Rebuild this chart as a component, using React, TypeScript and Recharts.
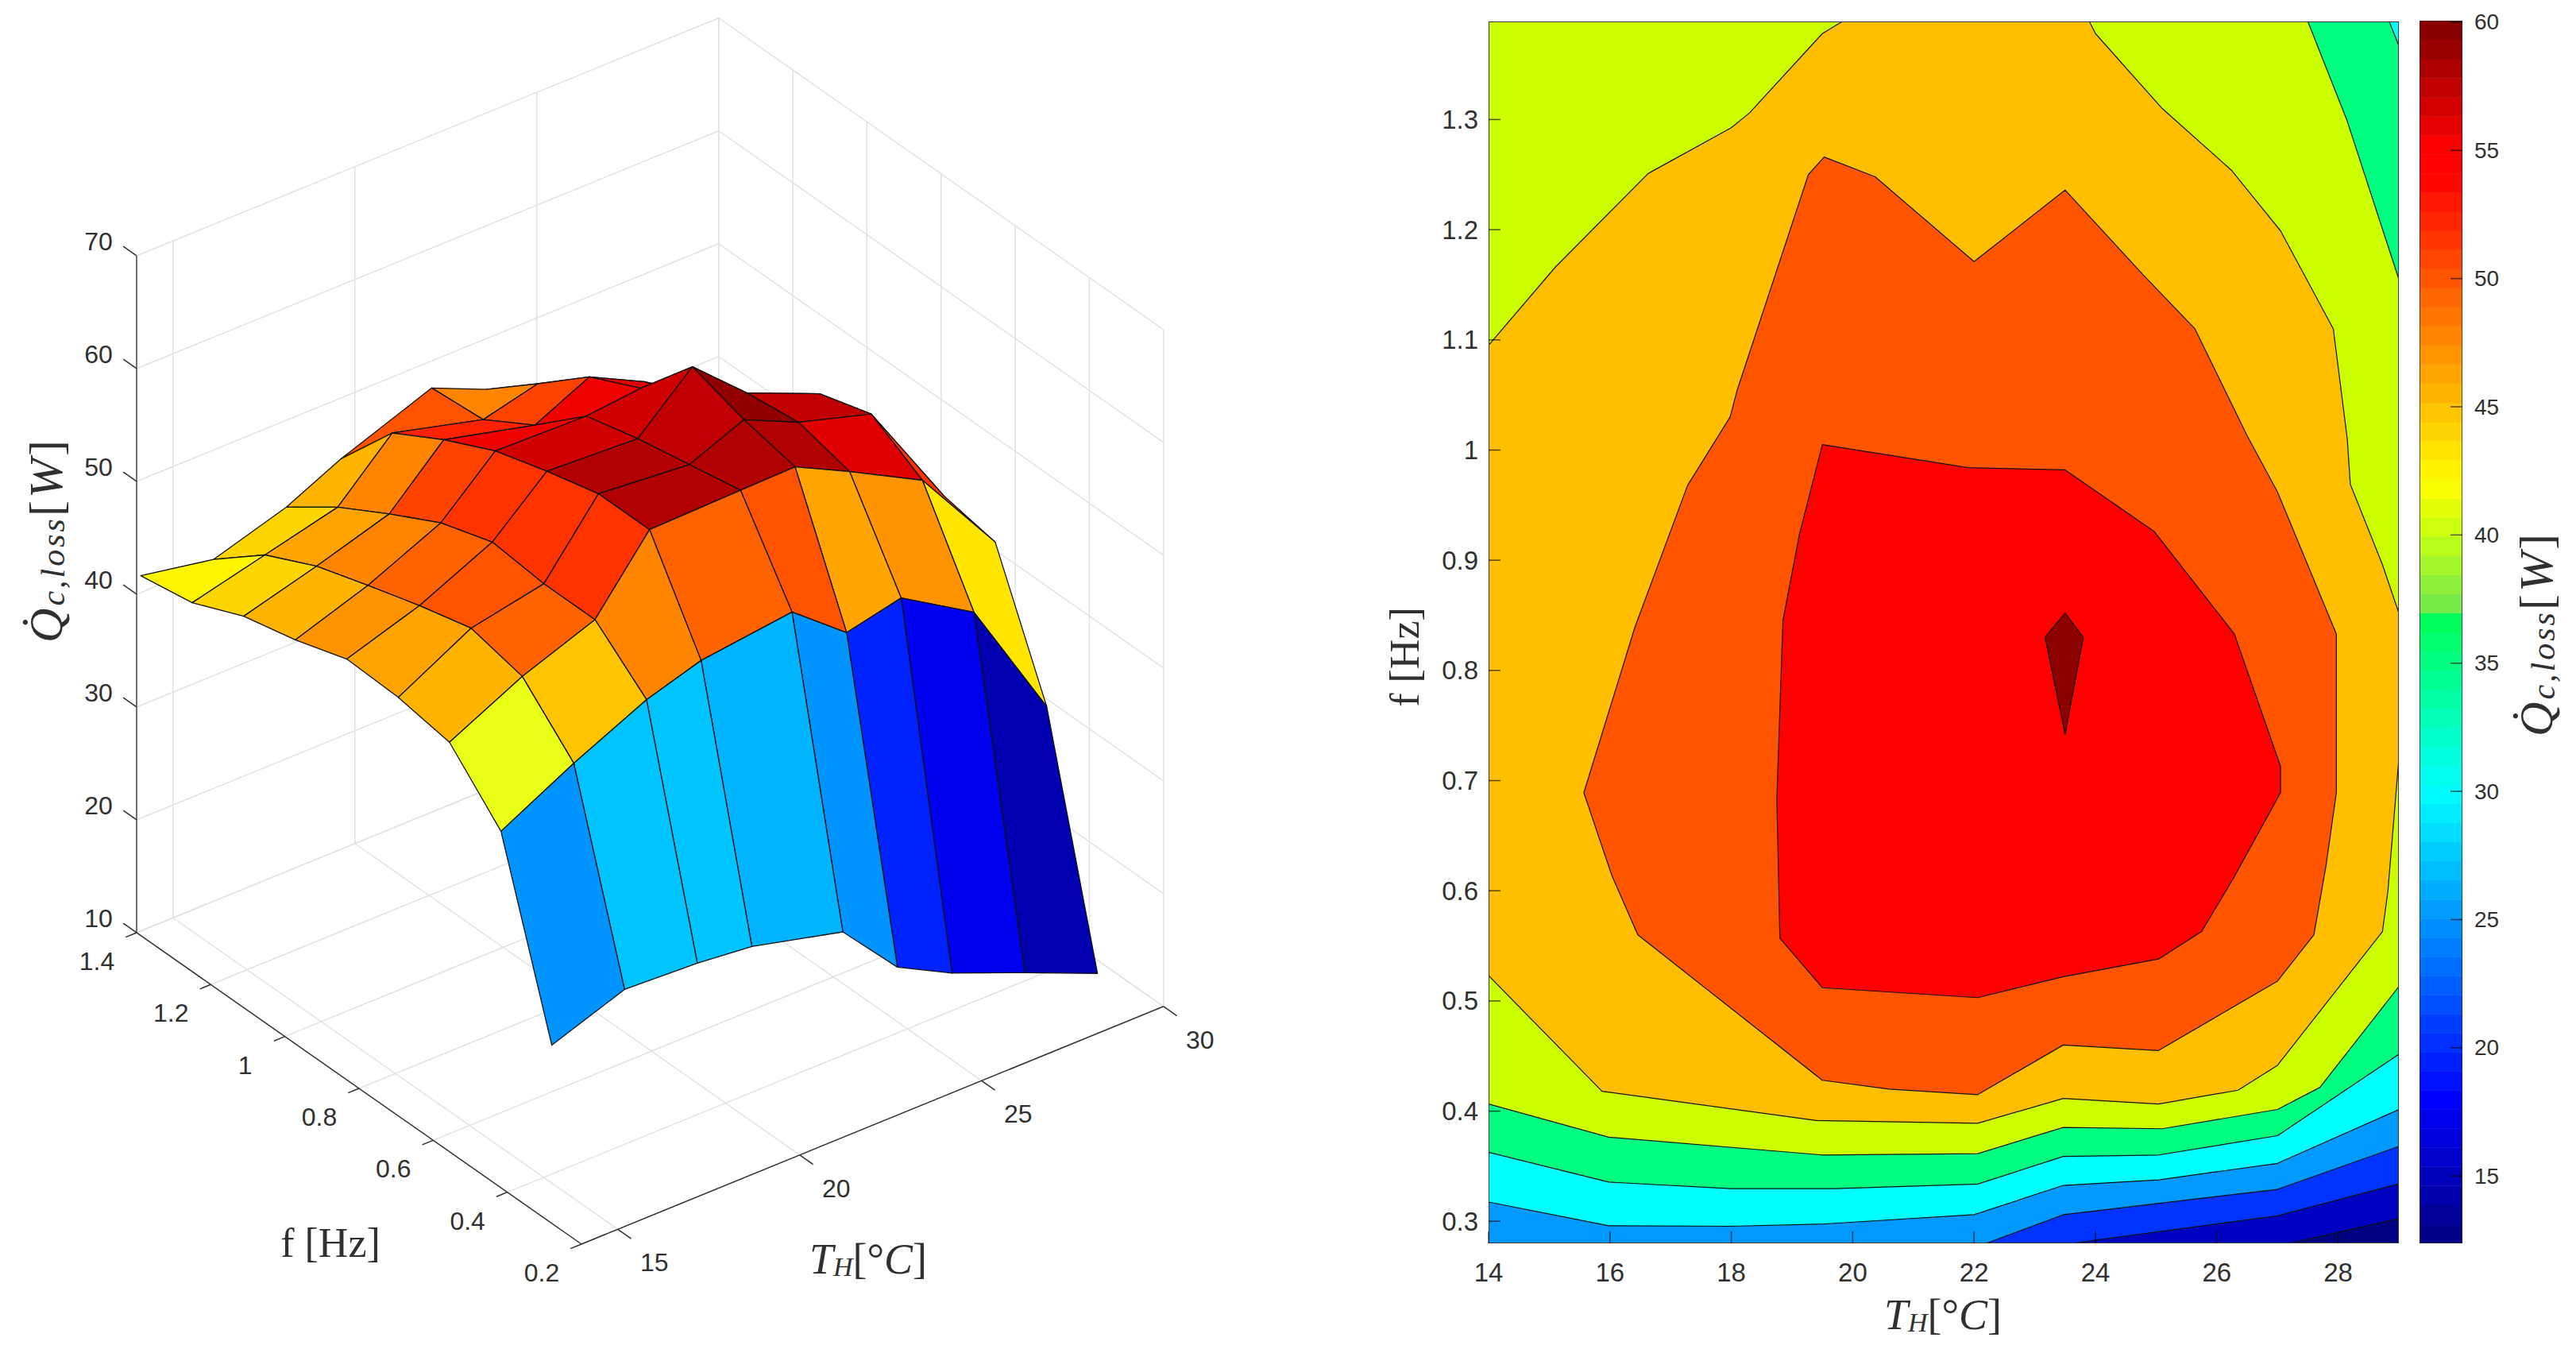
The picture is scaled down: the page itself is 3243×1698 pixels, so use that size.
import React from 'react';
import { ScatterChart, Scatter, XAxis, YAxis } from 'recharts';

// ---------- surface data ----------
const surfaceTemps = [14, 16, 18, 19.5, 22, 23.5, 25, 27, 29];
const surfaceFreqs = [0.28, 0.417, 0.556, 0.694, 0.833, 0.972, 1.111, 1.25, 1.389];
const qT14 = [25.8, 41.6, 46.3, 47.1, 47.3, 45.8, 44.7, 42.7, 41.9];
const qT16 = [28.1, 45.0, 49.5, 50.6, 49.4, 48.0, 46.5, 44.3, 40.7];
const qT18 = [27.8, 48.0, 51.9, 51.9, 52.4, 50.9, 48.5, 45.9, 42.7];
const qT195 = [27.3, 49.5, 57.9, 57.9, 56.7, 55.3, 53.1, 50.5, 45.0];
const qT22 = [25.3, 50.5, 58.1, 57.2, 56.3, 55.1, 51.1, 48.4, 48.0];
const qT235 = [20.2, 46.7, 58.2, 59.2, 60.7, 55.6, 53.4, 49.6, 45.9];
const qT25 = [17.7, 47.8, 55.8, 57.0, 56.4, 53.0, 51.0, 46.0, 43.0];
const qT27 = [15.1, 43.9, 52.4, 55.1, 53.7, 49.5, 47.0, 44.0, 41.0];
const qT29 = [12.4, 32.9, 44.3, 45.2, 45.1, 43.5, 41.0, 37.0, 29.5];
const surfaceQ = [qT14, qT16, qT18, qT195, qT22, qT235, qT25, qT27, qT29];

const tickT3d = [15, 20, 25, 30];
const tickF3d = [0.2, 0.4, 0.6, 0.8, 1, 1.2, 1.4];
const tickQ3d = [10, 20, 30, 40, 50, 60, 70];

// ---------- contour data: [T, f] outlines of "value >= level" ----------
const contourBase = [[14, 0.28], [29, 0.28], [29, 1.389], [14, 1.389]];
const contour15 = [[14, 1.389], [29, 1.389], [29, 0.3025], [27.2, 0.28], [14, 0.28]];
const contour20 = [[14, 1.389], [29, 1.389], [29, 0.334], [27, 0.305], [23.6, 0.28], [14, 0.28]];
const contour25 = [[14, 1.389], [29, 1.389], [29, 0.368], [27, 0.329], [23.47, 0.306], [22.2, 0.28], [14, 0.28]];
const contour30 = [[14, 1.389], [29, 1.389], [29, 0.4015], [27, 0.3526], [25.04, 0.3376], [23.47, 0.3326], [22, 0.306], [19.5, 0.2975], [17.98, 0.2955], [15.98, 0.296], [14, 0.3175]];
const contour35 = [[14, 1.389], [28.84, 1.389], [29, 1.367], [29, 0.4516], [27, 0.3777], [25.04, 0.3602], [23.47, 0.3589], [22.06, 0.3338], [19.72, 0.3296], [17.98, 0.3296], [15.98, 0.3356], [14, 0.3627]];
const contour40 = [[14, 1.389], [27.5, 1.389], [28.14, 1.3], [29, 1.155], [29, 0.513], [27.7, 0.4216], [27, 0.4015], [25.1, 0.384], [23.47, 0.3852], [22.06, 0.3614], [19.5, 0.3602], [15.98, 0.3764], [14, 0.4065]];
const contour45 = [[14, 1.095], [15.1, 1.166], [16.63, 1.251], [18, 1.2926], [18.3, 1.306], [19.5, 1.378], [19.83, 1.389], [23.9, 1.389], [24, 1.378], [25.1, 1.31], [26.24, 1.254], [27.05, 1.199], [27.92, 1.11], [28.15, 1.01], [28.2, 0.969], [28.73, 0.896], [29, 0.852], [29, 0.72], [28.82, 0.6], [28.73, 0.563], [27, 0.4416], [26.35, 0.419], [25.04, 0.4065], [23.47, 0.4115], [22.06, 0.389], [19.4, 0.3915], [15.87, 0.418], [14, 0.523]];
const contour50 = [[19.53, 1.266], [20.37, 1.248], [22, 1.171], [23.5, 1.236], [24.77, 1.16], [25.64, 1.11], [26.5, 1.013], [27, 0.962], [27.97, 0.833], [27.97, 0.689], [27.8, 0.623], [27.6, 0.56], [27, 0.518], [25.04, 0.455], [23.47, 0.46], [22.06, 0.415], [20.6, 0.42], [19.5, 0.428], [16.46, 0.56], [16.03, 0.614], [15.57, 0.689], [16.41, 0.839], [17.28, 0.968], [17.98, 1.03], [18.1, 1.055], [19.27, 1.25]];
const contour55 = [[19.5, 1.005], [21.9, 0.984], [23.5, 0.982], [24.97, 0.926], [26.29, 0.833], [27.05, 0.713], [27.05, 0.689], [26.27, 0.611], [25.75, 0.563], [25.04, 0.538], [23.47, 0.522], [22.06, 0.503], [19.5, 0.512], [18.8, 0.557], [18.75, 0.683], [18.85, 0.845], [19.12, 0.923]];
const contour60 = [[23.5, 0.852], [23.8, 0.83], [23.5, 0.742], [23.17, 0.83]];
const contours = [contourBase, contour15, contour20, contour25, contour30, contour35, contour40, contour45, contour50, contour55, contour60];
const contourColors = ['#000080', '#0000c0', '#0033ff', '#0099ff', '#00ffff', '#00ff80', '#ccff00', '#ffbf00', '#ff5500', '#ff0000', '#8c0000'];

const tickT2d = [14, 16, 18, 20, 22, 24, 26, 28];
const tickF2d = [0.3, 0.4, 0.5, 0.6, 0.7, 0.8, 0.9, 1, 1.1, 1.2, 1.3];
const tickBar = [15, 20, 25, 30, 35, 40, 45, 50, 55, 60];
const barStops: [number, string][] = [
  [12.37, '#000080'], [18, '#0000ff'], [30, '#00ffff'], [36.8, '#00ff55'], [37, '#70e850'],
  [40, '#c4ff10'], [42, '#ffff00'], [45, '#ffc000'], [50, '#ff5500'], [54, '#ff0000'], [55, '#ff0000'], [60, '#800000'],
];

// ---------- view ----------
const W = 1640;
const H = 1698;
const view = { ox: 732, oy: 1566, tx: 45.8, ty: 18.7, fx: 466.7, fy: 326.7, qy: 14.2 };
const project = (T: number, f: number, q: number) => ({
  x: view.ox + (T - 14) * view.tx - (f - 0.2) * view.fx,
  y: view.oy - (T - 14) * view.ty - (f - 0.2) * view.fy - (q - 10) * view.qy,
});
const SANS = '"Liberation Sans", Arial, sans-serif';
const SERIF = '"Liberation Serif", "DejaVu Serif", serif';
const INK = '#303030';

const jet = (t: number) => {
  const c = (v: number) => Math.round(255 * Math.max(0, Math.min(1, v)));
  const r = Math.min(4 * t - 1.5, -4 * t + 4.5);
  const g = Math.min(4 * t - 0.5, -4 * t + 3.5);
  const b = Math.min(4 * t + 0.5, -4 * t + 2.5);
  return `rgb(${c(r)},${c(g)},${c(b)})`;
};
const surfaceColor = (q: number) => jet(Math.floor(((q - 12.4) / (60.7 - 12.4)) * 63.99) / 63);

const hex = (s: string) => [1, 3, 5].map((i) => parseInt(s.slice(i, i + 2), 16));
const barColor = (v: number) => {
  for (let i = 1; i < barStops.length; i++) {
    if (v <= barStops[i][0]) {
      const [a, ca] = barStops[i - 1];
      const [b, cb] = barStops[i];
      const u = (v - a) / (b - a);
      const A = hex(ca);
      const B = hex(cb);
      return `rgb(${A.map((x, k) => Math.round(x + (B[k] - x) * u)).join(',')})`;
    }
  }
  return barStops[barStops.length - 1][1];
};

const noDot = () => <g />;
const toPts = (p: any) => p.points.map((q: any) => `${q.x},${q.y}`).join(' ');
const polygon = (fill: string, stroke: string, sw: number) => (p: any) => (
  <polygon points={toPts(p)} fill={fill} stroke={stroke} strokeWidth={sw} strokeLinejoin="round" />
);
const polyline = (stroke: string, sw: number) => (p: any) => (
  <polyline points={toPts(p)} fill="none" stroke={stroke} strokeWidth={sw} />
);

const Region = (key: string, data: any[], line: any) => (
  <Scatter key={key} data={data} line={line} shape={noDot} isAnimationActive={false} legendType="none" />
);

// ---------- left chart: 3D surface ----------
const gridStroke = '#e2e2e2';
const gridSegments = () => {
  const s: { a: number[]; b: number[] }[] = [];
  tickT3d.forEach((T) => {
    s.push({ a: [T, 0.2, 10], b: [T, 1.4, 10] });
    s.push({ a: [T, 1.4, 10], b: [T, 1.4, 70] });
  });
  tickF3d.forEach((f) => {
    s.push({ a: [14, f, 10], b: [30, f, 10] });
    s.push({ a: [30, f, 10], b: [30, f, 70] });
  });
  tickQ3d.forEach((q) => {
    s.push({ a: [14, 1.4, q], b: [30, 1.4, q] });
    s.push({ a: [30, 1.4, q], b: [30, 0.2, q] });
  });
  return s;
};

const panels = () => {
  const out: { pts: any[]; color: string; key: string }[] = [];
  for (let i = surfaceTemps.length - 2; i >= 0; i--) {
    for (let j = surfaceFreqs.length - 2; j >= 0; j--) {
      const v = (a: number, b: number) => project(surfaceTemps[a], surfaceFreqs[b], surfaceQ[a][b]);
      out.push({
        key: `p${i}-${j}`,
        pts: [v(i, j), v(i + 1, j), v(i + 1, j + 1), v(i, j + 1)],
        color: surfaceColor(surfaceQ[i][j]),
      });
    }
  }
  return out;
};

const labelShape = (dx: number, dy: number, size: number) => (p: any) => (
  <text x={p.cx + dx} y={p.cy + dy} textAnchor="middle" dominantBaseline="central" fontFamily={SANS} fontSize={size} fill={INK}>
    {p.payload.label}
  </text>
);

const QLabel = ({ x, y }: { x: number; y: number }) => (
  <text transform={`rotate(-90 ${x} ${y})`} x={x} y={y} textAnchor="middle" dominantBaseline="central" fontFamily={SERIF} fontSize={60} fill={INK} letterSpacing={3}>
    <tspan fontStyle="italic">{'Q\u0307'}</tspan>
    <tspan fontStyle="italic" fontSize={42} dy={9}>c,loss</tspan>
    <tspan dy={-9}>[</tspan>
    <tspan fontStyle="italic">W</tspan>
    <tspan>]</tspan>
  </text>
);
const THLabel = ({ x, y }: { x: number; y: number }) => (
  <text x={x} y={y} textAnchor="middle" dominantBaseline="central" fontFamily={SERIF} fontSize={54} fill={INK}>
    <tspan fontStyle="italic">T</tspan>
    <tspan fontStyle="italic" fontSize={34} dy={9}>H</tspan>
    <tspan dy={-9}>[°</tspan>
    <tspan fontStyle="italic">C</tspan>
    <tspan>]</tspan>
  </text>
);

const Surface3D = () => (
  <ScatterChart width={W} height={H} margin={{ top: 0, right: 0, bottom: 0, left: 0 }} style={{ position: 'absolute', left: 0, top: 0 }}>
    <XAxis type="number" dataKey="x" domain={[0, W]} hide allowDataOverflow />
    <YAxis type="number" dataKey="y" domain={[0, H]} reversed hide allowDataOverflow />
    {gridSegments().map((s, i) =>
      Region(`g${i}`, [project(s.a[0], s.a[1], s.a[2]), project(s.b[0], s.b[1], s.b[2])], polyline(gridStroke, 1.5))
    )}
    {Region('axisQ', [project(14, 1.4, 10), project(14, 1.4, 70)], polyline('#707070', 2))}
    {Region('axisF', [project(14, 1.4, 10), project(14, 0.2, 10)], polyline(INK, 1.5))}
    {Region('axisT', [project(14, 0.2, 10), project(30, 0.2, 10)], polyline(INK, 1.5))}
    {tickQ3d.map((q) => Region(`tq${q}`, [project(14, 1.4, q), project(14, 1.436, q)], polyline(INK, 1.5)))}
    {tickF3d.map((f) => Region(`tf${f}`, [project(14, f, 10), project(13.7, f, 10)], polyline(INK, 1.5)))}
    {tickT3d.map((T) => Region(`tt${T}`, [project(T, 0.2, 10), project(T, 0.164, 10)], polyline(INK, 1.5)))}
    {panels().map((p) => Region(p.key, p.pts, polygon(p.color, '#111', 1.3)))}
    <Scatter data={tickQ3d.map((q) => ({ ...project(14, 1.4, q), label: String(q) }))} shape={labelShape(-48, -18, 32)} isAnimationActive={false} legendType="none" />
    <Scatter data={tickF3d.map((f) => ({ ...project(14, f, 10), label: String(f) }))} shape={labelShape(-50, 36, 32)} isAnimationActive={false} legendType="none" />
    <Scatter data={tickT3d.map((T) => ({ ...project(T, 0.2, 10), label: String(T) }))} shape={labelShape(46, 42, 32)} isAnimationActive={false} legendType="none" />
    <QLabel x={58} y={680} />
    <text x={416} y={1564} textAnchor="middle" dominantBaseline="central" fontFamily={SERIF} fontSize={52} fill={INK}>f [Hz]</text>
    <THLabel x={1093} y={1585} />
  </ScatterChart>
);

// ---------- right chart: contours ----------
const TICK = 15;
const tickStroke = 'rgba(0,0,0,0.65)';
const bottomTick = (p: any) => (
  <g>
    <line x1={p.x} x2={p.x} y1={p.y} y2={p.y - TICK} stroke={tickStroke} strokeWidth={1.5} />
    <text x={p.x} y={p.y + 36} textAnchor="middle" dominantBaseline="central" fontFamily={SANS} fontSize={33} fill={INK}>{p.payload.value}</text>
  </g>
);
const topTick = (p: any) => <line x1={p.x} x2={p.x} y1={p.y} y2={p.y + TICK} stroke={tickStroke} strokeWidth={1.5} />;
const leftTick = (p: any) => (
  <g>
    <line x1={p.x} x2={p.x + TICK} y1={p.y} y2={p.y} stroke={tickStroke} strokeWidth={1.5} />
    <text x={p.x - 13} y={p.y} textAnchor="end" dominantBaseline="central" fontFamily={SANS} fontSize={33} fill={INK}>{p.payload.value}</text>
  </g>
);
const rightTick = (p: any) => <line x1={p.x} x2={p.x - TICK} y1={p.y} y2={p.y} stroke={tickStroke} strokeWidth={1.5} />;

const Contour2D = () => (
  <ScatterChart width={1330} height={H} margin={{ top: 27, right: 10, bottom: 0, left: 0 }} style={{ position: 'absolute', left: 1700, top: 0 }}>
    <XAxis type="number" dataKey="T" domain={[14, 29]} ticks={tickT2d} height={133} interval={0} tick={bottomTick} tickLine={false} axisLine={false} tickSize={0} tickMargin={0} allowDataOverflow />
    <XAxis xAxisId="top" orientation="top" type="number" dataKey="T" domain={[14, 29]} ticks={tickT2d} height={0} interval={0} tick={topTick} tickLine={false} axisLine={false} tickSize={0} tickMargin={0} allowDataOverflow />
    <YAxis type="number" dataKey="f" domain={[0.28, 1.389]} ticks={tickF2d} width={174} interval={0} tick={leftTick} tickLine={false} axisLine={false} tickSize={0} tickMargin={0} allowDataOverflow />
    <YAxis yAxisId="right" orientation="right" type="number" dataKey="f" domain={[0.28, 1.389]} ticks={tickF2d} width={0} interval={0} tick={rightTick} tickLine={false} axisLine={false} tickSize={0} tickMargin={0} allowDataOverflow />
    {contours.map((c, i) =>
      Region(`c${i}`, c.map(([T, f]) => ({ T, f })), polygon(contourColors[i], i === 0 ? contourColors[0] : '#111', 1.2))
    )}
    {Region('box', contourBase.map(([T, f]) => ({ T, f })), polygon('none', '#3a3a3a', 2))}
    <text transform="rotate(-90 68 827)" x={68} y={827} textAnchor="middle" dominantBaseline="central" fontFamily={SERIF} fontSize={52} fill={INK}>f [Hz]</text>
    <THLabel x={746} y={1655} />
  </ScatterChart>
);

// ---------- colour bar ----------
const barEdges = Array.from({ length: 65 }, (_, i) => 12.37 + (i * (60.06 - 12.37)) / 64);
const barRightTick = (p: any) => (
  <g>
    <line x1={p.x} x2={p.x - TICK} y1={p.y} y2={p.y} stroke={tickStroke} strokeWidth={1.5} />
    <text x={p.x + 15} y={p.y} textAnchor="start" dominantBaseline="central" fontFamily={SANS} fontSize={28} fill={INK}>{p.payload.value}</text>
  </g>
);
const ColorBar = () => (
  <ScatterChart width={203} height={H} margin={{ top: 26, right: 0, bottom: 133, left: 6 }} style={{ position: 'absolute', left: 3040, top: 0 }}>
    <XAxis type="number" dataKey="u" domain={[0, 1]} hide allowDataOverflow />
    <YAxis orientation="right" type="number" dataKey="v" domain={[12.37, 60.06]} ticks={tickBar} width={143} interval={0} tick={barRightTick} tickLine={false} axisLine={false} tickSize={0} tickMargin={0} allowDataOverflow />
    {barEdges.slice(0, -1).map((lo, i) => {
      const c = barColor((lo + barEdges[i + 1]) / 2);
      return Region(`b${i}`, [{ u: 0, v: lo }, { u: 1, v: lo }, { u: 1, v: barEdges[i + 1] }, { u: 0, v: barEdges[i + 1] }], polygon(c, c, 0.6));
    })}
    {Region('barBox', [{ u: 0, v: 12.37 }, { u: 1, v: 12.37 }, { u: 1, v: 60.06 }, { u: 0, v: 60.06 }], polygon('none', 'rgba(40,40,40,0.75)', 2))}
    <QLabel x={153} y={798} />
  </ScatterChart>
);

export default function App() {
  return (
    <div style={{ position: 'absolute', left: 0, top: 0, width: 3243, height: 1698, background: '#fff', overflow: 'hidden' }}>
      <Surface3D />
      <Contour2D />
      <ColorBar />
    </div>
  );
}
